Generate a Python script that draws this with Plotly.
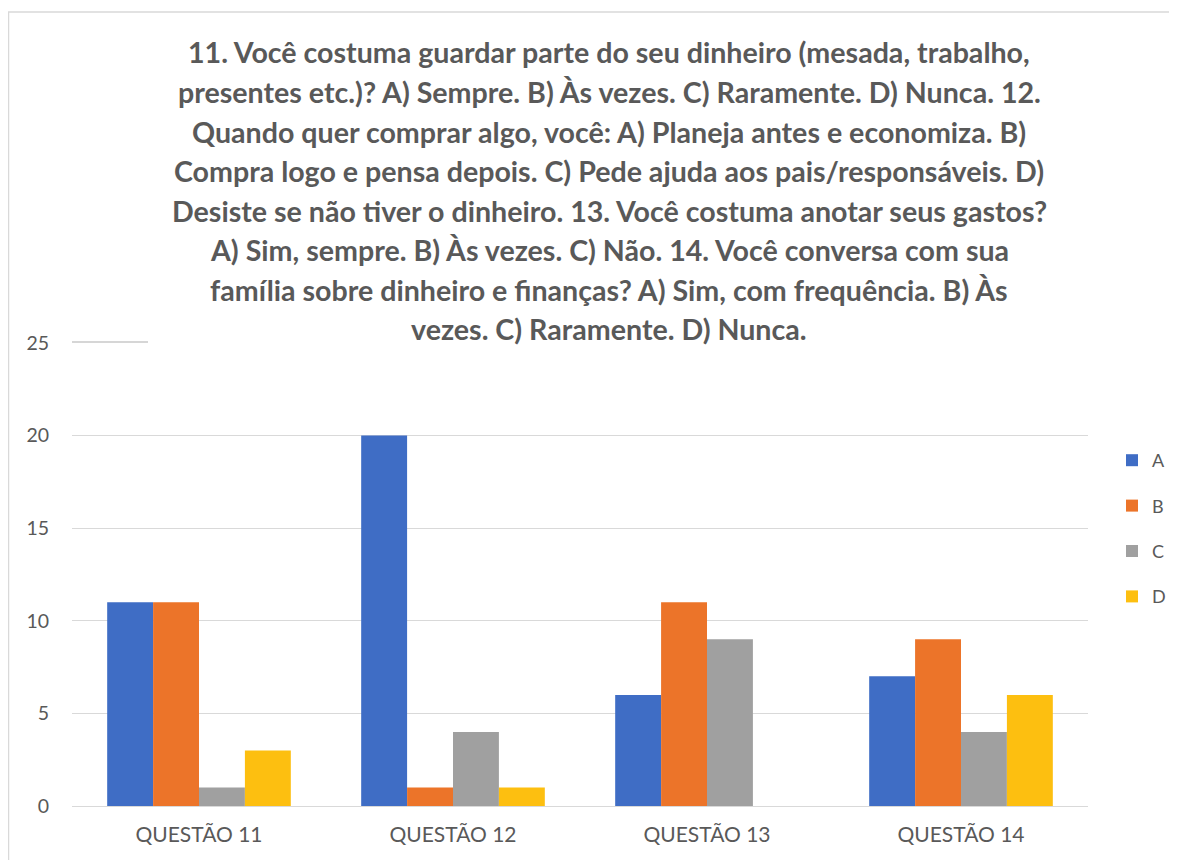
import plotly.graph_objects as go

categories = ["QUESTÃO 11", "QUESTÃO 12", "QUESTÃO 13", "QUESTÃO 14"]
series_names = ["A", "B", "C", "D"]
values_A = [11, 20, 6, 7]
values_B = [11, 1, 11, 9]
values_C = [1, 4, 9, 4]
values_D = [3, 1, 0, 6]
colors = ["#3F6DC5", "#EC7429", "#A0A0A0", "#FDBF10"]

title_lines = [
    "11. Você costuma guardar parte do seu dinheiro (mesada, trabalho,",
    "presentes etc.)? A) Sempre. B) Às vezes. C) Raramente. D) Nunca. 12.",
    "Quando quer comprar algo, você: A) Planeja antes e economiza. B)",
    "Compra logo e pensa depois. C) Pede ajuda aos pais/responsáveis. D)",
    "Desiste se não tiver o dinheiro. 13. Você costuma anotar seus gastos?",
    "A) Sim, sempre. B) Às vezes. C) Não. 14. Você conversa com sua",
    "família sobre dinheiro e finanças? A) Sim, com frequência. B) Às",
    "vezes. C) Raramente. D) Nunca.",
]

OFF = 8  # page body margin
W, H = 1177 - OFF, 860 - OFF
X0, X1 = 72 - OFF, 1088 - OFF
Y_TOP, Y_BOT = 343 - OFF, 806 - OFF
L, R, T, B = X0, W - X1, Y_TOP, H - Y_BOT
pw, ph = X1 - X0, Y_BOT - Y_TOP

fig = go.Figure()
for name, vals, col in zip(series_names, [values_A, values_B, values_C, values_D], colors):
    fig.add_trace(go.Bar(x=categories, y=vals, name=name, marker_color=col,
                         marker_line_width=0, legendgroup=name))

def px_x(sx):
    return (sx - OFF - X0) / pw

def px_y(sy):
    return (Y_BOT - (sy - OFF)) / ph

annotations = []
line_y = [52, 92, 132, 171, 211, 250, 290, 329]
for txt, yy in zip(title_lines, line_y):
    annotations.append(dict(text="<b>" + txt + "</b>", xref="paper", yref="paper",
                            x=px_x(609), y=px_y(yy), xanchor="center", yanchor="middle",
                            showarrow=False,
                            font=dict(family="Lato, Open Sans, sans-serif", size=28.6, color="#595959")))

fig.update_layout(
    width=W, height=H,
    margin=dict(l=L, r=R, t=T, b=B, autoexpand=False),
    paper_bgcolor="white", plot_bgcolor="white",
    barmode="group", bargap=0.277, bargroupgap=0,
    font=dict(family="Lato, Open Sans, sans-serif", color="#595959", size=18),
    annotations=annotations,
    legend=dict(x=px_x(1112), y=px_y(442), xanchor="left", yanchor="top",
                font=dict(size=18, color="#595959"), tracegroupgap=19,
                itemwidth=30, bgcolor="rgba(0,0,0,0)"),
    xaxis=dict(showgrid=False, showline=True, linecolor="#D9D9D9", linewidth=1,
               ticks="", ticklabelstandoff=10, tickfont=dict(size=21, color="#595959")),
    yaxis=dict(range=[0, 25], dtick=5, showgrid=True, gridcolor="#D9D9D9", gridwidth=1,
               zeroline=False, showline=False, ticks="", ticklabelstandoff=22,
               tickfont=dict(size=19.5, color="#595959")),
    shapes=[
        dict(type="line", xref="paper", yref="paper", x0=px_x(8), x1=px_x(1190),
             y0=px_y(12), y1=px_y(12), line=dict(color="#D9D9D9", width=1.5)),
        dict(type="line", xref="paper", yref="paper", x0=px_x(8.5), x1=px_x(8.5),
             y0=px_y(12), y1=px_y(880), line=dict(color="#D9D9D9", width=1.5)),
        dict(type="line", xref="paper", yref="paper", x0=px_x(72), x1=px_x(148),
             y0=px_y(342), y1=px_y(342), line=dict(color="#C8C8C8", width=1.5)),
    ],
)

fig.write_html("out.html")
